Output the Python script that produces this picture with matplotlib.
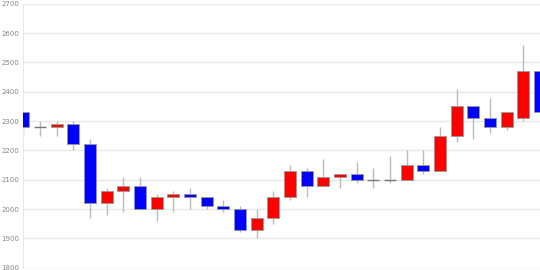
import matplotlib
matplotlib.use("Agg")
import matplotlib.pyplot as plt
import numpy as np

# daily candles (open, high, low, close)
opens  = [2330, 2280, 2280, 2290, 2220, 2020, 2060, 2080, 2000, 2040,
          2050, 2040, 2010, 2000, 1930, 1970, 2040, 2130, 2080, 2110,
          2120, 2100, 2100, 2100, 2150, 2130, 2250, 2350, 2310, 2280,
          2310, 2470]
highs  = [2330, 2300, 2300, 2300, 2240, 2070, 2110, 2110, 2050, 2060,
          2070, 2040, 2030, 2010, 2000, 2060, 2150, 2140, 2170, 2120,
          2160, 2140, 2180, 2200, 2200, 2280, 2410, 2350, 2380, 2330,
          2560, 2470]
lows   = [2250, 2250, 2250, 2200, 1970, 1980, 1990, 2000, 1960, 1990,
          2000, 2000, 1990, 1920, 1900, 1950, 2030, 2040, 2080, 2070,
          2090, 2070, 2090, 2100, 2120, 2130, 2230, 2240, 2260, 2270,
          2300, 2330]
closes = [2280, 2280, 2290, 2220, 2020, 2060, 2080, 2000, 2040, 2050,
          2040, 2010, 2000, 1930, 1970, 2040, 2130, 2080, 2110, 2120,
          2100, 2100, 2100, 2150, 2130, 2250, 2350, 2310, 2280, 2330,
          2470, 2330]
yticks = [1800, 1900, 2000, 2100, 2200, 2300, 2400, 2500, 2600, 2700]

o = np.array(opens); c = np.array(closes)
x = np.arange(len(opens))

fig = plt.figure(figsize=(5.4, 2.7), dpi=100)
ax = fig.add_axes([23.3/540, 1 - 267.7/270, 1 - 23.3/540, (267.7 - 3.7)/270])

ax.vlines(x, lows, highs, color='#bbbbbb', linewidth=1, zorder=2)

colors = np.where(c > o, '#ff0000', '#0000ff')
bot = np.minimum(o, c)
hgt = np.abs(c - o)
flat = hgt == 0
ax.bar(x[~flat], hgt[~flat], bottom=bot[~flat], width=0.72,
       color=colors[~flat], edgecolor='#999999', linewidth=0.6, zorder=3)
ax.hlines(o[flat], x[flat] - 0.36, x[flat] + 0.36, color='#777777', linewidth=1, zorder=3)

ax.set_xlim(0, len(opens) - 1)
ax.set_ylim(1800, 2700)
ax.set_yticks(yticks)
ax.set_xticks([])
ax.grid(axis='y', color='#e8e8e8', linewidth=1, zorder=0)
ax.tick_params(axis='y', length=0, labelsize=5, labelcolor='#888888', pad=3)
for s in ['top', 'right', 'bottom']:
    ax.spines[s].set_visible(False)
ax.spines['left'].set_color('#e8e8e8')

fig.savefig('out.png', dpi=100)
